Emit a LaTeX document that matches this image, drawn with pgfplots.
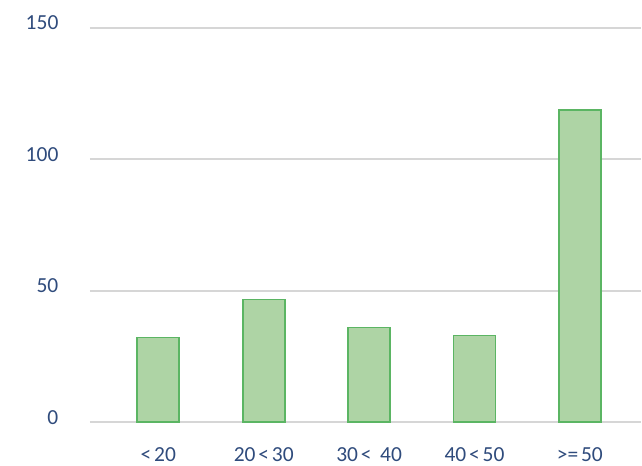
\documentclass[border=0pt]{standalone}
\usepackage{pgfplots}
\pgfplotsset{compat=1.18}
\usepackage{fontspec}
\setmainfont{Carlito}
\definecolor{txt}{HTML}{2F4B7C}
\definecolor{barfill}{HTML}{AED4A5}
\definecolor{baredge}{HTML}{5BB563}
\definecolor{gridc}{HTML}{D6D6D6}
\newcommand{\gsp}{\hspace{0.13em}}
\begin{document}
\begin{tikzpicture}[x=1pt,y=1pt]
\begin{axis}[
  name=ax,
  scale only axis,
  width=552pt, height=395pt,
  xmin=-0.65, xmax=4.58,
  ymin=0, ymax=150,
  ytick={0,50,100,150},
  xtick={0,1,2,3,4},
  xticklabels={{<\gsp 20},{20\gsp<\gsp 30},{30\gsp<\hspace{0.4em}40},{40\gsp<\gsp 50},{>=\gsp 50}},
  axis line style={draw=none},
  major tick length=0pt,
  ymajorgrids,
  grid style={color=gridc, line width=2pt},
  /pgf/number format/assume math mode=true,
  tick label style={font=\fontsize{21.5}{25}\selectfont, text=txt},
  yticklabel style={anchor=east, xshift=-28pt, yshift=5pt},
  xticklabel style={anchor=center, yshift=-32pt},
  clip=false,
]
\addplot[ybar, bar width=42pt, fill=barfill, draw=baredge, line width=1.8pt]
  coordinates {(0,32.3) (1,46.7) (2,36.1) (3,33.0) (4,118.8)};
\end{axis}
\path ([shift={(-90pt,-43pt)}]ax.south west) rectangle ([shift={(0pt,28pt)}]ax.north east);
\end{tikzpicture}
\end{document}
